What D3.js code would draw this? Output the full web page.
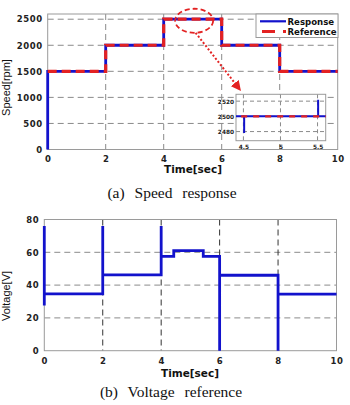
<!DOCTYPE html>
<html>
<head>
<meta charset="utf-8">
<script src="https://cdn.jsdelivr.net/npm/d3@7"></script>
<style>
body { margin: 0; background: #fff; }
svg { display: block; }
.tick text { font-family: "DejaVu Sans", sans-serif; font-weight: bold; fill: #222; }
</style>
</head>
<body>
<svg id="chart" width="350" height="405"></svg>
<script>
// speed panel (a)
var respT = [0, 0, 2, 2, 4, 4, 4.51, 4.51, 4.51, 5.508, 5.508, 5.508, 6, 6, 8, 8, 10];
var respV = [0, 1500, 1500, 2000, 2000, 2500, 2500, 2478, 2500, 2500, 2522, 2500, 2500, 2000, 2000, 1500, 1500];
var refT = [0, 2, 2, 4, 4, 6, 6, 8, 8, 10];
var refV = [1500, 1500, 2000, 2000, 2500, 2500, 2000, 2000, 1500, 1500];
var speedTicks = [0, 500, 1000, 1500, 2000, 2500];
var timeTicks = [0, 2, 4, 6, 8, 10];
var insetTimeTicks = [4.5, 5, 5.5];
var insetSpeedTicks = [2480, 2500, 2520];

// voltage panel (b)
var voltT = [0, 0, 0, 2, 2, 2, 4, 4, 4, 4.43, 4.43, 5.44, 5.44, 6, 6, 6, 8, 8, 8, 10];
var voltV = [76, 27.5, 34.7, 34.7, 76, 46.2, 46.2, 76, 57.5, 57.5, 61, 61, 57.5, 57.5, 0, 46, 46, 0, 34.5, 34.5];
var voltTicks = [0, 20, 40, 60, 80];

var blue = "#1212cc";
var red = "#e32222";
var gridColor = "#8a8a8a";

var svg = d3.select("#chart");
svg.append("rect").attr("width", 350).attr("height", 405).attr("fill", "#fff");

var defs = svg.append("defs");
defs.append("marker")
	.attr("id", "arrow")
	.attr("viewBox", "0 0 10 10")
	.attr("refX", 8).attr("refY", 5)
	.attr("markerWidth", 5).attr("markerHeight", 5)
	.attr("orient", "auto")
	.append("path")
	.attr("d", "M0,0 L10,5 L0,10 z")
	.attr("fill", red);

function zip(ts, vs) {
	return ts.map(function(t, i) { return [t, vs[i]]; });
}

//////// generic panel: background, grid, frame, tick labels
function panel(g, x, y, xTicks, yTicks, opt) {
	var x0 = x.range()[0], x1 = x.range()[1];
	var yb = y.range()[0], yt = y.range()[1];

	g.append("rect")
		.attr("x", x0).attr("y", yt)
		.attr("width", x1 - x0).attr("height", yb - yt)
		.attr("fill", "#fff");

	// horizontal grid
	g.selectAll(".hgrid")
		.data(yTicks.filter(function(d) { return y(d) > yt + 1 && y(d) < yb - 1; }))
		.enter().append("line")
		.attr("x1", x0).attr("x2", x1)
		.attr("y1", function(d) { return y(d); })
		.attr("y2", function(d) { return y(d); })
		.attr("stroke", gridColor)
		.attr("stroke-width", 1)
		.attr("stroke-dasharray", opt.dash);

	// vertical grid
	g.selectAll(".vgrid")
		.data(xTicks.filter(function(d) { return x(d) > x0 + 1 && x(d) < x1 - 1; }))
		.enter().append("line")
		.attr("y1", yt).attr("y2", yb)
		.attr("x1", function(d) { return x(d); })
		.attr("x2", function(d) { return x(d); })
		.attr("stroke", opt.vgridColor || gridColor)
		.attr("stroke-width", 1)
		.attr("stroke-dasharray", opt.dash);

	// frame
	g.append("rect")
		.attr("x", x0).attr("y", yt)
		.attr("width", x1 - x0).attr("height", yb - yt)
		.attr("fill", "none")
		.attr("stroke", "#9a9a9a")
		.attr("stroke-width", 1);

	g.append("g")
		.attr("transform", "translate(0," + yb + ")")
		.call(d3.axisBottom(x).tickValues(xTicks).tickSize(0).tickPadding(opt.xPad).tickFormat(opt.xFmt || d3.format("d")))
		.call(function(a) { a.select(".domain").remove(); })
		.selectAll("text")
		.style("font-size", opt.fontSize + "px")
		.style("letter-spacing", opt.spacing + "px");

	g.append("g")
		.attr("transform", "translate(" + x0 + ",0)")
		.call(d3.axisLeft(y).tickValues(yTicks).tickSize(0).tickPadding(opt.yPad).tickFormat(d3.format("d")))
		.call(function(a) { a.select(".domain").remove(); })
		.selectAll("text")
		.style("font-size", opt.fontSize + "px")
		.style("letter-spacing", opt.spacing + "px");
}

/////////// (a) Speed response

var xa = d3.scaleLinear().domain([0, 10]).range([47.7, 337.7]);
var ya = d3.scaleLinear().domain([0, 2600]).range([149.5, 14]);
var ga = svg.append("g");

panel(ga, xa, ya, timeTicks, speedTicks, { dash: "6,4", xPad: 6, yPad: 5, fontSize: 8.5, spacing: 0.6 });

var lineA = d3.line().x(function(d) { return xa(d[0]); }).y(function(d) { return ya(d[1]); });

ga.append("path")
	.attr("d", lineA(zip(respT, respV)))
	.attr("fill", "none").attr("stroke", blue).attr("stroke-width", 2.8);

ga.append("path")
	.attr("d", lineA(zip(refT, refV)))
	.attr("fill", "none").attr("stroke", red).attr("stroke-width", 3.2)
	.attr("stroke-dasharray", "9,5");

// legend
var lg = ga.append("g");
lg.append("rect")
	.attr("x", 256).attr("y", 14).attr("width", 82).attr("height", 23.5)
	.attr("fill", "#fff").attr("stroke", "#9a9a9a");
lg.append("line")
	.attr("x1", 260).attr("x2", 286).attr("y1", 21.3).attr("y2", 21.3)
	.attr("stroke", blue).attr("stroke-width", 2.2);
lg.append("line")
	.attr("x1", 262).attr("x2", 286).attr("y1", 31.5).attr("y2", 31.5)
	.attr("stroke", red).attr("stroke-width", 3.2).attr("stroke-dasharray", "13,8");
lg.selectAll("text")
	.data(["Response", "Reference"])
	.enter().append("text")
	.attr("x", 287.5)
	.attr("y", function(d, i) { return 24.5 + i * 10; })
	.attr("font-family", "DejaVu Sans, sans-serif")
	.attr("font-weight", "bold")
	.attr("font-size", 8.6)
	.attr("fill", "#111")
	.text(function(d) { return d; });

// zoom ellipse + arrow
ga.append("ellipse")
	.attr("cx", xa(5.05)).attr("cy", ya(2470))
	.attr("rx", 19).attr("ry", 12)
	.attr("fill", "none").attr("stroke", red)
	.attr("stroke-width", 1.8).attr("stroke-dasharray", "5,3");

// inset
var xi = d3.scaleLinear().domain([4.4, 5.61]).range([236, 325.7]);
var yi = d3.scaleLinear().domain([2468, 2529]).range([140.7, 94.3]);

ga.append("line")
	.attr("x1", xa(5.1)).attr("y1", ya(2470) + 12)
	.attr("x2", xi(4.45)).attr("y2", yi(2529) - 5)
	.attr("stroke", red).attr("stroke-width", 2)
	.attr("stroke-dasharray", "2,2")
	.attr("marker-end", "url(#arrow)");

var gi = ga.append("g");
panel(gi, xi, yi, insetTimeTicks, insetSpeedTicks, { dash: "4,3", xPad: 4, yPad: 2, fontSize: 5.8, spacing: 0, xFmt: d3.format("") });

var lineI = d3.line().x(function(d) { return xi(d[0]); }).y(function(d) { return yi(d[1]); });
var insetClip = defs.append("clipPath").attr("id", "insetClip");
insetClip.append("rect")
	.attr("x", 236).attr("y", 94.3).attr("width", 89.7).attr("height", 46.4);

gi.append("path")
	.attr("d", lineI(zip(respT, respV)))
	.attr("clip-path", "url(#insetClip)")
	.attr("fill", "none").attr("stroke", blue).attr("stroke-width", 2);
gi.append("path")
	.attr("d", lineI(zip(refT, refV)))
	.attr("clip-path", "url(#insetClip)")
	.attr("fill", "none").attr("stroke", red).attr("stroke-width", 2.4)
	.attr("stroke-dasharray", "6,6");

ga.append("text")
	.attr("transform", "translate(10," + 87.5 + ") rotate(-90)")
	.attr("text-anchor", "middle")
	.attr("font-family", "Liberation Sans, Arial, sans-serif")
	.attr("font-size", 11)
	.attr("fill", "#111")
	.text("Speed[rpm]");

ga.append("text")
	.attr("x", 193).attr("y", 173)
	.attr("text-anchor", "middle")
	.attr("font-family", "DejaVu Sans, sans-serif")
	.attr("font-weight", "bold")
	.attr("font-size", 10.5)
	.attr("fill", "#111")
	.text("Time[sec]");

ga.append("text")
	.attr("x", 172).attr("y", 198)
	.attr("text-anchor", "middle")
	.attr("font-family", "Liberation Serif, Times New Roman, serif")
	.attr("font-size", 15.5)
	.attr("word-spacing", 6)
	.attr("fill", "#111")
	.text("(a) Speed response");

/////////// (b) Voltage reference

var xb = d3.scaleLinear().domain([0, 10]).range([44.3, 336.5]);
var yb = d3.scaleLinear().domain([0, 80]).range([350.7, 219.5]);
var gb = svg.append("g");

panel(gb, xb, yb, timeTicks, voltTicks, { dash: "6,4", xPad: 7, yPad: 5, fontSize: 8.5, spacing: 0.6, vgridColor: "#333" });

var lineB = d3.line().x(function(d) { return xb(d[0]); }).y(function(d) { return yb(d[1]); });
gb.append("path")
	.attr("d", lineB(zip(voltT, voltV)))
	.attr("fill", "none").attr("stroke", blue).attr("stroke-width", 2.8);

gb.append("text")
	.attr("transform", "translate(10," + 296 + ") rotate(-90)")
	.attr("text-anchor", "middle")
	.attr("font-family", "Liberation Sans, Arial, sans-serif")
	.attr("font-size", 11)
	.attr("fill", "#111")
	.text("Voltage[V]");

gb.append("text")
	.attr("x", 190).attr("y", 377)
	.attr("text-anchor", "middle")
	.attr("font-family", "DejaVu Sans, sans-serif")
	.attr("font-weight", "bold")
	.attr("font-size", 10.5)
	.attr("fill", "#111")
	.text("Time[sec]");

gb.append("text")
	.attr("x", 171).attr("y", 397)
	.attr("text-anchor", "middle")
	.attr("font-family", "Liberation Serif, Times New Roman, serif")
	.attr("font-size", 15.5)
	.attr("word-spacing", 6)
	.attr("fill", "#111")
	.text("(b) Voltage reference");
</script>
</body>
</html>
